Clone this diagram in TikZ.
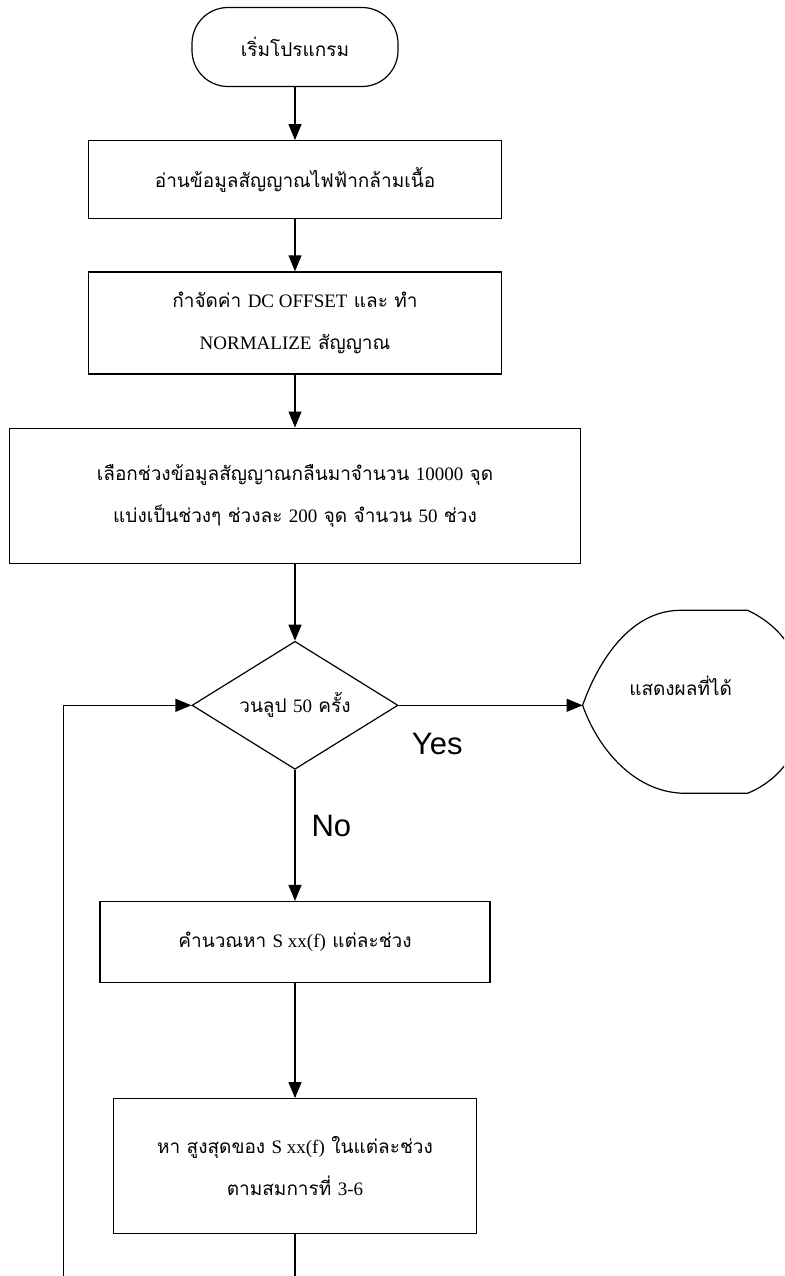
\documentclass[tikz,border=0pt]{standalone}
\usepackage{fontspec}
\setmainfont{Liberation Serif}
\setsansfont{Liberation Sans}
\newfontfamily\thai[Script=Thai]{Loma}
\usepackage{tikz}
\usetikzlibrary{
    shapes,
    shapes.geometric,
    positioning,
    calc,
    arrows,
    arrows.meta
}
\newcommand\en[1]{{\rmfamily #1}}
\tikzset{
  basic/.style = {
      draw,
      line width=1.2pt,
      font=\thai\fontsize{19}{42}\selectfont,
      rectangle,
      align=center,
      inner sep=0pt
  },
  terminal/.style = {
      basic,
      rounded corners=36pt,
      minimum width=206pt,
      minimum height=79pt
  },
  process/.style = {
      basic
  },
  decision/.style = {
      basic,
      diamond,
      aspect=1.6,
      minimum width=206pt,
      minimum height=128pt
  },
  plain/.style = {
      draw=none,
      font=\thai\fontsize{19}{42}\selectfont
  },
  answer/.style = {
      font=\sffamily\fontsize{31}{31}\selectfont,
      inner sep=0pt
  },
  link/.style = {
      line width=1.2pt
  }
}

\begin{document}
\begin{tikzpicture}[x=1pt, y=1pt, >={Triangle[length=16pt, width=13pt]}]
    \useasboundingbox (0,0) rectangle (784,-1276);
    \clip (0,0) rectangle (784,-1276);
    \node[terminal] (start) at (295,-47) {เริ่มโปรแกรม};
    \node[process, minimum width=413pt, minimum height=78pt, below=53pt of start] (read) {อ่านข้อมูลสัญญาณไฟฟ้ากล้ามเนื้อ};
    \node[process, minimum width=413pt, minimum height=102pt, below=52pt of read] (dc) {กำจัดค่า \en{DC OFFSET} และ ทำ\\\en{NORMALIZE} สัญญาณ};
    \node[process, minimum width=571pt, minimum height=135pt, below=53pt of dc] (select) {เลือกช่วงข้อมูลสัญญาณกลืนมาจำนวน \en{10000} จุด\\แบ่งเป็นช่วงๆ ช่วงละ \en{200} จุด จำนวน \en{50} ช่วง};
    \node[decision, below=77pt of select] (loop) {วนลูป \en{50} ครั้ง};
    \node[process, minimum width=390pt, minimum height=81pt, below=131pt of loop] (calc) {คำนวณหา \en{S xx(f)} แต่ละช่วง};
    \node[process, minimum width=363pt, minimum height=135pt, below=115pt of calc] (peak) {หา สูงสุดของ \en{S xx(f)} ในแต่ละช่วง\\ตามสมการที่ \en{3-6}};
    % Display
    \coordinate[right=184pt of loop.east] (showtip);
    \node[plain] (show) at ($(showtip)+(98,20)$) {แสดงผลที่ได้};
    \begin{scope}[shift={(showtip)}]
        \draw[link] (0,0) .. controls (16,45) and (48,95) .. (98,95) -- (165,95)
            .. controls (208,75) and (223,35) .. (223,3)
            .. controls (223,-30) and (208,-70) .. (165,-88) -- (103,-88)
            .. controls (53,-88) and (16,-45) .. cycle;
    \end{scope}
    % Edges
    \draw[->, link] (start) -- (read);
    \draw[->, link] (read) -- (dc);
    \draw[->, link] (dc) -- (select);
    \draw[->, link] (select) -- (loop);
    \draw[->, link] (loop.east) -- node[answer, pos=0.21, below=27pt] (yes) {Yes} (showtip);
    \draw[->, link] (loop) -- node[answer, pos=0.43, right=16pt] (no) {No} (calc);
    \draw[->, link] (calc) -- (peak);
    \draw[->, link] (peak.south) -- ++(0,-60) -| ([xshift=-128pt]loop.west) -- (loop.west);
\end{tikzpicture}
\end{document}
